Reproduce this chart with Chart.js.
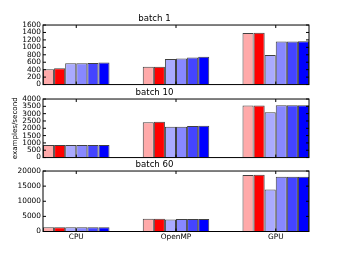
<!DOCTYPE html>
<html>
<head>
<meta charset="utf-8">
<script src="https://cdn.jsdelivr.net/npm/chart.js@4.4.1/dist/chart.umd.min.js"></script>
<style>
  html, body { margin: 0; padding: 0; background: #fff; }
  #wrap { position: relative; width: 343px; height: 257px; overflow: hidden; }
  canvas { position: absolute; left: 0; }
</style>
</head>
<body>
<div id="wrap">
  <canvas id="panel0" width="343" height="77" style="top:14px;width:343px;height:77px"></canvas>
  <canvas id="panel1" width="343" height="76" style="top:88px;width:343px;height:76px"></canvas>
  <canvas id="panel2" width="343" height="84" style="top:160px;width:343px;height:84px"></canvas>
</div>
<script>
const groups = ['CPU', 'OpenMP', 'GPU'];
const batchTitles = ['batch 1', 'batch 10', 'batch 60'];
const seriesColors = ['#ffaaaa', '#ff0000', '#aaaaff', '#8888ff', '#4444ff', '#0000ff'];

// one row per series, values for CPU / OpenMP / GPU
const batch1 = [
    [410, 480, 1385],
    [440, 480, 1390],
    [570, 690, 795],
    [570, 700, 1160],
    [580, 725, 1160],
    [595, 750, 1165]
];
const batch10 = [
    [850, 2410, 3560],
    [850, 2450, 3560],
    [850, 2110, 3090],
    [850, 2110, 3580],
    [850, 2150, 3580],
    [850, 2170, 3580]
];
const batch60 = [
    [1400, 4220, 18650],
    [1400, 4220, 18750],
    [1400, 4000, 13900],
    [1400, 4100, 18100],
    [1400, 4100, 18100],
    [1400, 4100, 18100]
];
const yTicks1 = [0, 200, 400, 600, 800, 1000, 1200, 1400, 1600];
const yTicks10 = [0, 500, 1000, 1500, 2000, 2500, 3000, 3500, 4000];
const yTicks60 = [0, 5000, 10000, 15000, 20000];
const yLabel = 'examples/second';

const panels = [
    { data: batch1, ticks: yTicks1 },
    { data: batch10, ticks: yTicks10 },
    { data: batch60, ticks: yTicks60 }
];

Chart.defaults.font.family = "'DejaVu Sans', sans-serif";
Chart.defaults.color = '#000';

const barsPerGroup = seriesColors.length;
const gapBars = 3;
const groupStep = barsPerGroup + gapBars;
const xMax = groups.length * barsPerGroup + (groups.length - 1) * gapBars;
const groupCenter = i => i * groupStep + barsPerGroup / 2;

// matplotlib style box with inward ticks
const framePlugin = {
    id: 'frame',
    afterDatasetsDraw(chart) {
        const { ctx, chartArea: a, scales } = chart;
        ctx.save();
        ctx.strokeStyle = '#000';
        ctx.lineWidth = 1;
        ctx.strokeRect(a.left, a.top, a.right - a.left, a.bottom - a.top);
        ctx.beginPath();
        scales.y.ticks.forEach((t, i) => {
            const py = scales.y.getPixelForTick(i);
            ctx.moveTo(a.left, py); ctx.lineTo(a.left + 3, py);
            ctx.moveTo(a.right, py); ctx.lineTo(a.right - 3, py);
        });
        scales.x.ticks.forEach((t, i) => {
            const px = scales.x.getPixelForTick(i);
            ctx.moveTo(px, a.bottom); ctx.lineTo(px, a.bottom - 3);
            ctx.moveTo(px, a.top); ctx.lineTo(px, a.top + 3);
        });
        ctx.stroke();
        ctx.restore();
    }
};

panels.forEach((p, idx) => {
    const last = idx === panels.length - 1;
    const ctx = document.getElementById('panel' + idx).getContext('2d');
    new Chart(ctx, {
        type: 'bar',
        data: {
            datasets: p.data.map((vals, s) => ({
                data: vals.map((v, g) => ({ x: groupCenter(g), y: v })),
                backgroundColor: seriesColors[s],
                borderColor: 'rgba(0,0,0,0.75)',
                borderWidth: 1,
                categoryPercentage: barsPerGroup / groupStep,
                barPercentage: 1
            }))
        },
        options: {
            responsive: false,
            animation: false,
            layout: { padding: { left: 0, right: 34, top: 0, bottom: 0 } },
            plugins: {
                legend: { display: false },
                tooltip: { enabled: false },
                title: {
                    display: true,
                    text: batchTitles[idx],
                    font: { size: 8.6, weight: 'normal' },
                    color: '#000',
                    padding: { top: 0, bottom: 0.7 }
                }
            },
            scales: {
                x: {
                    type: 'linear',
                    offset: false,
                    min: 0,
                    max: xMax,
                    grid: { display: false, drawTicks: false },
                    border: { display: false },
                    afterBuildTicks: scale => {
                        scale.ticks = groups.map((g, i) => ({ value: groupCenter(i) }));
                    },
                    afterFit: scale => { scale.height = last ? 12.5 : 5; },
                    ticks: {
                        display: last,
                        autoSkip: false,
                        maxRotation: 0,
                        padding: 1,
                        font: { size: 7.4 },
                        callback: (v) => groups[Math.round((v - barsPerGroup / 2) / groupStep)]
                    }
                },
                y: {
                    min: 0,
                    max: p.ticks[p.ticks.length - 1],
                    grid: { display: false, drawTicks: false },
                    border: { display: false },
                    afterBuildTicks: scale => {
                        scale.ticks = p.ticks.map(v => ({ value: v }));
                    },
                    afterFit: scale => { scale.width = 43; },
                    ticks: { padding: 2, autoSkip: false, font: { size: 7.4 }, callback: v => String(v) },
                    title: {
                        display: idx === 1,
                        text: yLabel,
                        font: { size: 7.1 },
                        padding: { top: 10.7, bottom: 0 }
                    }
                }
            }
        },
        plugins: [framePlugin]
    });
});
</script>
</body>
</html>
